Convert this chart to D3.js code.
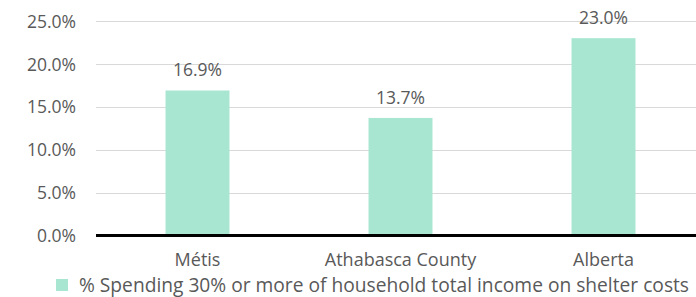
<!DOCTYPE html>
<html><head><meta charset="utf-8">
<script src="https://cdn.jsdelivr.net/npm/d3@7"></script>
<style>body{margin:0;background:#fff}svg{display:block}text{font-family:"Open Sans",sans-serif;fill:#595959}</style>
</head><body><svg id="c" width="696" height="297"></svg>
<script>
const categories = ["Métis", "Athabasca County", "Alberta"];
const values = [16.9, 13.7, 23.0];
const yTicks = [0, 5, 10, 15, 20, 25];
const seriesName = "% Spending 30% or more of household total income on shelter costs";

const svg = d3.select("#c");
const fs = 17.5;
const x = d3.scaleBand().domain(categories).range([96, 705]).paddingInner(0.685).paddingOuter(0.3425);
const y = d3.scaleLinear().domain([0, 25]).range([235.5, 21]);

// gridlines
svg.append("g").selectAll("line").data(yTicks.filter(d => d > 0)).join("line")
  .attr("x1", 96).attr("x2", 696)
  .attr("y1", d => Math.round(y(d)) + 0.5).attr("y2", d => Math.round(y(d)) + 0.5)
  .attr("stroke", "#d9d9d9").attr("stroke-width", 1);

// y axis labels
const yAxis = d3.axisLeft(y).tickValues(yTicks).tickSize(0).tickPadding(0).tickFormat(d => d.toFixed(1) + "%");
const ga = svg.append("g").attr("transform", "translate(76,0)").call(yAxis);
ga.select(".domain").remove();
ga.selectAll("text").attr("font-size", fs).attr("font-family", "Open Sans").attr("fill", "#595959").attr("dy", "0.35em");

// bars
svg.append("g").selectAll("rect").data(values).join("rect")
  .attr("x", (d, i) => x(categories[i])).attr("width", x.bandwidth())
  .attr("y", d => y(d)).attr("height", d => y(0) - y(d))
  .attr("fill", "#a8e6d2");

// value labels
svg.append("g").selectAll("text").data(values).join("text")
  .attr("x", (d, i) => x(categories[i]) + x.bandwidth() / 2)
  .attr("y", d => y(d) - 14)
  .attr("text-anchor", "middle").attr("font-size", fs)
  .text(d => d.toFixed(1) + "%");

// baseline
svg.append("line").attr("x1", 96).attr("x2", 696).attr("y1", y(0)).attr("y2", y(0))
  .attr("stroke", "#000").attr("stroke-width", 3);

// category labels
const xAxis = d3.axisBottom(x).tickSize(0).tickPadding(0);
const gx = svg.append("g").attr("transform", "translate(0,266)").call(xAxis);
gx.select(".domain").remove();
gx.selectAll("text").attr("font-size", 18).attr("font-family", "Open Sans").attr("fill", "#595959").attr("dy", 0);

// legend
const lg = svg.append("g");
lg.append("rect").attr("x", 56).attr("y", 279).attr("width", 12).attr("height", 12).attr("fill", "#a8e6d2");
lg.append("text").attr("x", 79).attr("y", 292).attr("font-size", 19.2).text(seriesName);
</script></body></html>
